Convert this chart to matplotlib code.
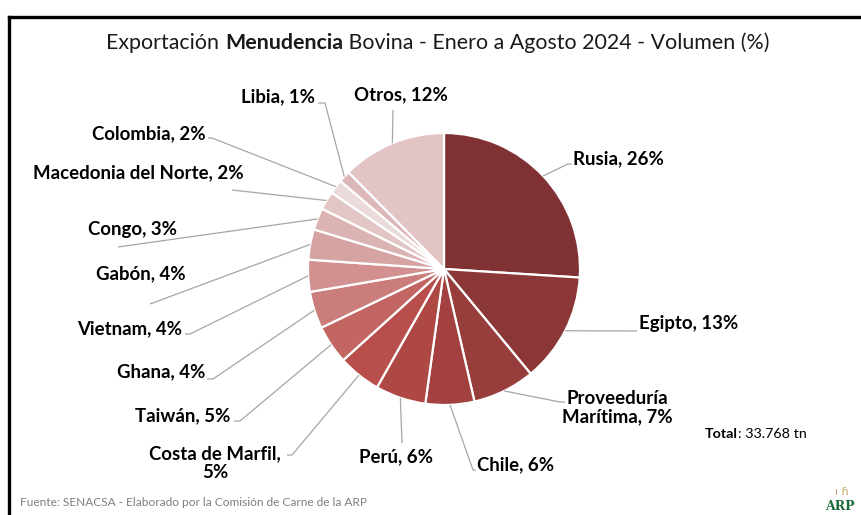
import matplotlib
matplotlib.use("Agg")
import matplotlib.pyplot as plt
import numpy as np

# ---------------- data ----------------
paises = ["Rusia", "Egipto", "Proveeduría\nMarítima", "Chile", "Perú",
          "Costa de Marfil", "Taiwán", "Ghana", "Vietnam", "Gabón", "Congo",
          "Macedonia del Norte", "Colombia", "Libia", "Otros"]
valores = [26.0, 13.0, 7.4, 5.8, 6.0, 5.1, 4.6, 4.4, 3.8, 3.6, 2.6, 2.2, 1.7, 1.4, 12.4]
total_tn = "33.768 tn"
titulo = ["Exportación ", "Menudencia", " Bovina - Enero a Agosto 2024 - Volumen (%)"]
fuente = "Fuente: SENACSA - Elaborado por la Comisión de Carne de la ARP"

# ---------------- style ----------------
colores = ["#7F3133", "#8B3737", "#973D3C", "#A24140", "#AD4845", "#B94F4C",
           "#C36562", "#CA7D7B", "#D29190", "#D6A3A3", "#DBB3B3", "#E2C6C6",
           "#EBDADA", "#DDB7B7", "#E3C4C5"]
FONT = "Lato"
W, H = 861, 515
CX, CY, R = 444, H - 269, 136

# label layout (pixel coords, y from top): text pos, ha, leader end, elbow tail
seps = [", "] * len(paises)
seps[5] = ",\n"
layout = [
    # (tx, ty, ha, ex, ey, tailx)
    (573, 159, "left", 568, 164, 572),
    (639, 323, "left", 637, 331, 637),
    (617, 408, "center", 560, 402, 565),
    (477, 465, "left", 473, 470, 476),
    (396, 457, "center", 402, 443, 402),
    (215, 463, "center", 292, 455, 287),
    (230, 416, "right", 240, 421, 234),
    (205, 372, "right", 213, 379, 207),
    (182, 329, "right", 190, 334, 185),
    (141, 274, "center", 150, 304, 150),
    (133, 229, "center", 118, 247, 118),
    (138, 173, "center", 232, 190, 232),
    (206, 134, "right", 212, 138, 208),
    (315, 97, "right", 325, 103, 318),
    (401, 95, "center", 393, 110, 393),
]

fig = plt.figure(figsize=(W / 100, H / 100), dpi=100)
fig.patch.set_facecolor("white")
ax = fig.add_axes([0, 0, 1, 1])

wedges, _ = ax.pie(valores, colors=colores, startangle=90, counterclock=False,
                   center=(CX, CY), radius=R,
                   wedgeprops=dict(edgecolor="white", linewidth=1.6))
ax.set_xlim(0, W)
ax.set_ylim(0, H)
ax.set_aspect("equal")
ax.axis("off")

tot = sum(valores)
for w, name, sep, v, (tx, ty, ha, ex, ey, tailx) in zip(wedges, paises, seps, valores, layout):
    ang = np.deg2rad((w.theta1 + w.theta2) / 2)
    sx, sy = CX + R * np.cos(ang), CY + R * np.sin(ang)
    ax.plot([sx, ex, tailx], [sy, H - ey, H - ey], color="#A6A6A6", lw=0.9,
            solid_capstyle="butt", zorder=1)
    pct = round(v / tot * 100)
    ax.text(tx, H - ty, f"{name}{sep}{pct}%", ha=ha, va="center",
            fontsize=13.4, fontweight="bold", family=FONT, color="black",
            multialignment="center", linespacing=1.1)

# title with mixed weights
fig.canvas.draw()
rend = fig.canvas.get_renderer()
weights = ["normal", "bold", "normal"]
parts = []
widths = []
for s, wt in zip(titulo, weights):
    t = ax.text(0, H - 43, s, fontsize=15.4, fontweight=wt, family=FONT,
                ha="left", va="center", color="#1a1a1a")
    bb = t.get_window_extent(renderer=rend)
    parts.append(t)
    widths.append(bb.width)
x0 = 438 - sum(widths) / 2
for t, wdt in zip(parts, widths):
    t.set_x(x0)
    x0 += wdt

# total
t1 = ax.text(705, H - 434, "Total", fontsize=10.3, fontweight="bold", family=FONT,
             ha="left", va="center")
bb = t1.get_window_extent(renderer=rend)
ax.text(705 + bb.width, H - 434, ": " + total_tn, fontsize=10.3, family=FONT,
        ha="left", va="center")

# footer
ax.text(20, H - 503, fuente, fontsize=8.6, family=FONT, color="#7F7F7F",
        ha="left", va="center")

# logo-ish mark
ax.text(840, H - 506, "ARP", fontsize=9, fontweight="bold", family="DejaVu Serif",
        color="#1E6B3A", ha="center", va="center")
ax.text(842, H - 492, "ı ɦ", fontsize=8, family="DejaVu Sans", color="#C9A66B",
        ha="center", va="center")

# frame (left and top border)
ax.plot([9, 9], [0, H - 17], color="black", lw=2.4, solid_capstyle="projecting")
ax.plot([9, W], [H - 17, H - 17], color="black", lw=2.4, solid_capstyle="projecting")

fig.savefig("out.png", dpi=100, facecolor="white")
